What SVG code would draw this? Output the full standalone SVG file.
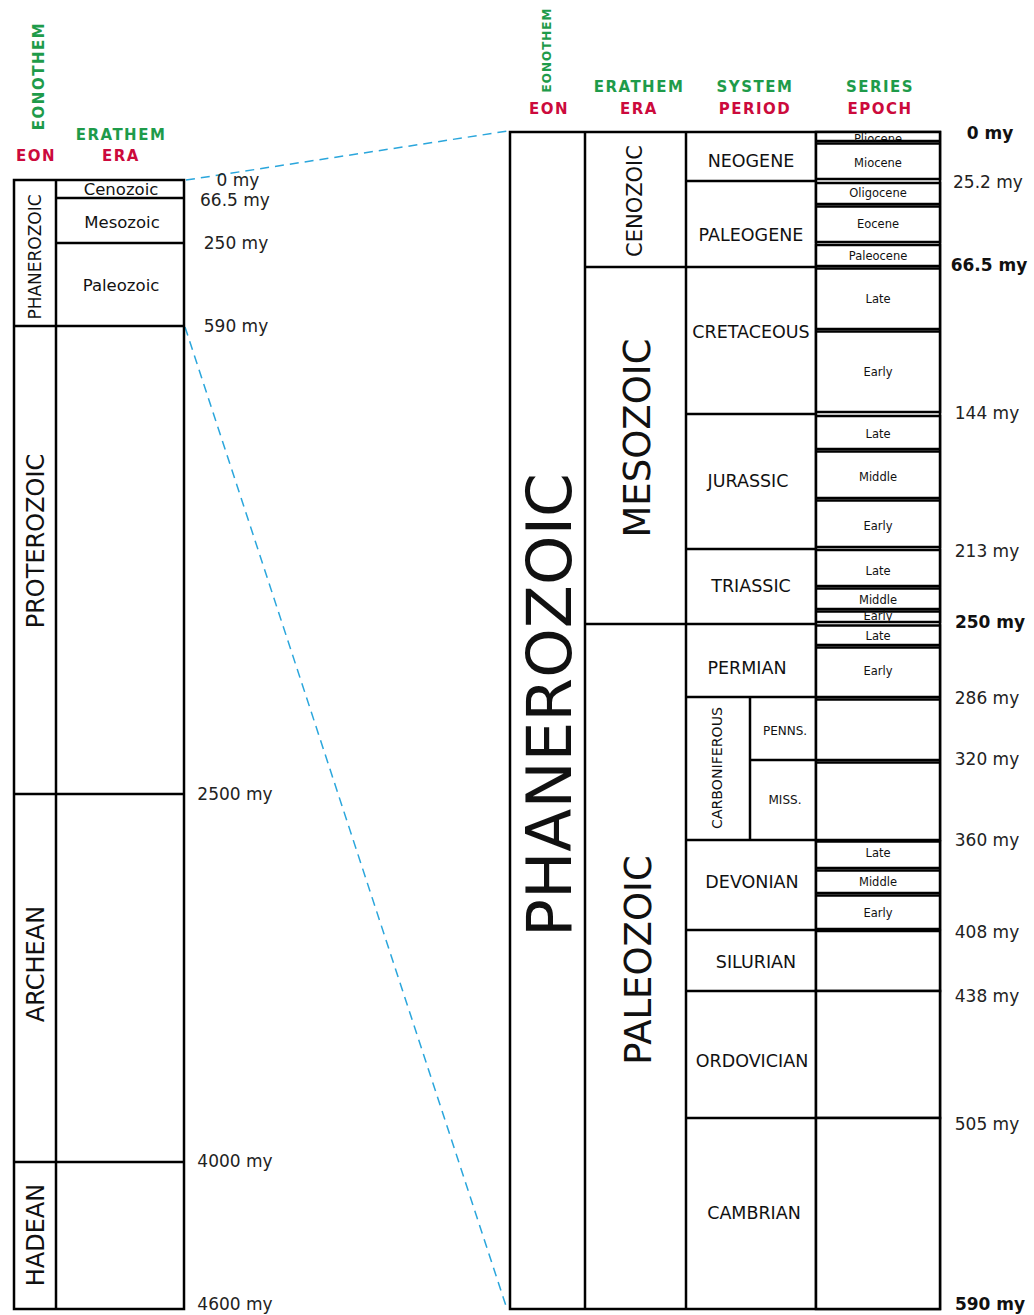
<svg xmlns="http://www.w3.org/2000/svg" width="1034" height="1315" viewBox="0 0 1034 1315">
<style>
.ln{stroke:#000;stroke-width:2.5;fill:none}
.bx{stroke:#000;stroke-width:2.5;fill:#fff}
.t{font-family:"DejaVu Sans",Verdana,sans-serif;fill:#111;text-anchor:middle}
.hg{font-family:"DejaVu Sans",Verdana,sans-serif;font-weight:bold;fill:#1e9b4a;text-anchor:middle;letter-spacing:1.5px}
.hr{font-family:"DejaVu Sans",Verdana,sans-serif;font-weight:bold;fill:#cc0a3c;text-anchor:middle;letter-spacing:1.5px}
.age{font-family:"DejaVu Sans",Verdana,sans-serif;fill:#222;text-anchor:middle;font-size:17px}
.ageb{font-family:"DejaVu Sans",Verdana,sans-serif;fill:#111;text-anchor:middle;font-size:17px;font-weight:bold}
.ep{font-family:"DejaVu Sans",Verdana,sans-serif;fill:#111;text-anchor:middle;font-size:11.5px}
.per{font-family:"DejaVu Sans",Verdana,sans-serif;fill:#111;text-anchor:middle;font-size:17.5px}
.dash{stroke:#2aa6dc;stroke-width:1.5;stroke-dasharray:9 6;fill:none}
</style>
<defs>
<clipPath id="clipPlio"><rect x="817" y="133" width="122" height="8"/></clipPath>
</defs>
<rect width="1034" height="1315" fill="#fff"/>

<g id="headers">
<text class="hg" font-size="15" transform="translate(38,76) rotate(-90)" y="5.5">EONOTHEM</text>
<text class="hr" font-size="15" x="36" y="160.5">EON</text>
<text class="hg" font-size="15" x="121" y="139.5">ERATHEM</text>
<text class="hr" font-size="15" x="121" y="160.5">ERA</text>
<text class="hg" font-size="12" transform="translate(547,50) rotate(-90)" y="4.4" style="letter-spacing:1px">EONOTHEM</text>
<text class="hr" font-size="15" x="549" y="113.5">EON</text>
<text class="hg" font-size="15" x="639" y="91.5">ERATHEM</text>
<text class="hr" font-size="15" x="639" y="113.5">ERA</text>
<text class="hg" font-size="15" x="755" y="91.5">SYSTEM</text>
<text class="hr" font-size="15" x="755" y="113.5">PERIOD</text>
<text class="hg" font-size="15" x="880" y="91.5">SERIES</text>
<text class="hr" font-size="15" x="880" y="113.5">EPOCH</text>
</g>

<g id="connectors">
<line class="dash" x1="186" y1="180" x2="508" y2="131"/>
<line class="dash" x1="185" y1="327" x2="507" y2="1309"/>
</g>

<g id="left-chart">
<rect class="ln" x="14" y="180" width="170" height="1129"/>
<line class="ln" x1="56" y1="180" x2="56" y2="1309"/>
<line class="ln" x1="56" y1="198" x2="184" y2="198"/>
<line class="ln" x1="56" y1="243" x2="184" y2="243"/>
<line class="ln" x1="14" y1="326" x2="184" y2="326"/>
<line class="ln" x1="14" y1="794" x2="184" y2="794"/>
<line class="ln" x1="14" y1="1162" x2="184" y2="1162"/>
</g>

<g id="left-eons">
<text class="t" font-size="17" transform="translate(35,257) rotate(-90)" y="6.2">PHANEROZOIC</text>
<text class="t" font-size="24" transform="translate(35,541) rotate(-90)" y="8.8">PROTEROZOIC</text>
<text class="t" font-size="24" transform="translate(35,964) rotate(-90)" y="8.8">ARCHEAN</text>
<text class="t" font-size="24" transform="translate(35,1235) rotate(-90)" y="8.8">HADEAN</text>
</g>

<g id="left-eras">
<text class="t" font-size="16.5" x="121" y="195">Cenozoic</text>
<text class="t" font-size="16.5" x="122" y="228">Mesozoic</text>
<text class="t" font-size="16.5" x="121" y="291">Paleozoic</text>
</g>

<g id="left-ages">
<text class="age" x="238" y="186">0 my</text>
<text class="age" x="235" y="206">66.5 my</text>
<text class="age" x="236" y="249">250 my</text>
<text class="age" x="236" y="332">590 my</text>
<text class="age" x="235" y="800">2500 my</text>
<text class="age" x="235" y="1167">4000 my</text>
<text class="age" x="235" y="1310">4600 my</text>
</g>

<g id="right-chart">
<rect class="ln" x="510" y="132" width="430" height="1177"/>
<line class="ln" x1="585" y1="132" x2="585" y2="1309"/>
<line class="ln" x1="686" y1="132" x2="686" y2="1309"/>
<line class="ln" x1="816" y1="132" x2="816" y2="1309"/>
<line class="ln" x1="686" y1="181" x2="816" y2="181"/>
<line class="ln" x1="585" y1="267" x2="816" y2="267"/>
<line class="ln" x1="686" y1="414" x2="816" y2="414"/>
<line class="ln" x1="686" y1="549" x2="816" y2="549"/>
<line class="ln" x1="585" y1="624" x2="816" y2="624"/>
<line class="ln" x1="686" y1="697" x2="816" y2="697"/>
<line class="ln" x1="750" y1="697" x2="750" y2="840"/>
<line class="ln" x1="750" y1="760" x2="816" y2="760"/>
<line class="ln" x1="686" y1="840" x2="816" y2="840"/>
<line class="ln" x1="686" y1="930" x2="816" y2="930"/>
<line class="ln" x1="686" y1="991" x2="816" y2="991"/>
<line class="ln" x1="686" y1="1118" x2="816" y2="1118"/>
</g>

<g id="epoch-boxes">
<rect class="bx" x="816" y="132" width="124" height="9"/>
<rect class="bx" x="816" y="143.5" width="124" height="35.5"/>
<rect class="bx" x="816" y="183" width="124" height="21"/>
<rect class="bx" x="816" y="206.5" width="124" height="35.5"/>
<rect class="bx" x="816" y="245" width="124" height="21"/>
<rect class="bx" x="816" y="268.5" width="124" height="60.5"/>
<rect class="bx" x="816" y="331.5" width="124" height="80.5"/>
<rect class="bx" x="816" y="416" width="124" height="33"/>
<rect class="bx" x="816" y="451.5" width="124" height="46.5"/>
<rect class="bx" x="816" y="500.5" width="124" height="46.5"/>
<rect class="bx" x="816" y="550" width="124" height="36"/>
<rect class="bx" x="816" y="588.5" width="124" height="20.5"/>
<rect class="bx" x="816" y="611.5" width="124" height="10.5"/>
<rect class="bx" x="816" y="625.5" width="124" height="19.5"/>
<rect class="bx" x="816" y="647.5" width="124" height="49.5"/>
<rect class="bx" x="816" y="699.5" width="124" height="60.5"/>
<rect class="bx" x="816" y="762.5" width="124" height="77.5"/>
<rect class="bx" x="816" y="841.5" width="124" height="26.5"/>
<rect class="bx" x="816" y="870.5" width="124" height="22.5"/>
<rect class="bx" x="816" y="895.5" width="124" height="33.5"/>
<rect class="bx" x="816" y="931" width="124" height="60"/>
<rect class="bx" x="816" y="991" width="124" height="127"/>
<rect class="bx" x="816" y="1118" width="124" height="191"/>
</g>

<g id="eon-phanerozoic">
<text class="t" font-size="63" transform="translate(548,705) rotate(-90)" y="23">PHANEROZOIC</text>
</g>

<g id="eras">
<text class="t" font-size="21" transform="translate(634,201) rotate(-90)" y="7.7">CENOZOIC</text>
<text class="t" font-size="37" transform="translate(636,438) rotate(-90)" y="13.5">MESOZOIC</text>
<text class="t" font-size="37" transform="translate(637,960) rotate(-90)" y="13.5">PALEOZOIC</text>
</g>

<g id="periods">
<text class="per" x="751" y="166.5">NEOGENE</text>
<text class="per" x="751" y="240.5">PALEOGENE</text>
<text class="per" x="751" y="337.5">CRETACEOUS</text>
<text class="per" x="748" y="486.5">JURASSIC</text>
<text class="per" x="751" y="591.5">TRIASSIC</text>
<text class="per" x="747" y="673.5">PERMIAN</text>
<text class="t" font-size="14" transform="translate(717,768) rotate(-90)" y="5.1" textLength="122" lengthAdjust="spacingAndGlyphs">CARBONIFEROUS</text>
<text class="t" font-size="12" x="785" y="735.4">PENNS.</text>
<text class="t" font-size="12" x="785" y="804.4">MISS.</text>
<text class="per" x="752" y="887.5">DEVONIAN</text>
<text class="per" x="756" y="967.5">SILURIAN</text>
<text class="per" x="752" y="1066.5">ORDOVICIAN</text>
<text class="per" x="754" y="1218.5">CAMBRIAN</text>
</g>

<g id="epochs">
<text class="ep" x="878" y="142.5" clip-path="url(#clipPlio)">Pliocene</text>
<text class="ep" x="878" y="167.2">Miocene</text>
<text class="ep" x="878" y="197.2">Oligocene</text>
<text class="ep" x="878" y="228.2">Eocene</text>
<text class="ep" x="878" y="260.2">Paleocene</text>
<text class="ep" x="878" y="303.2">Late</text>
<text class="ep" x="878" y="376.2">Early</text>
<text class="ep" x="878" y="438.2">Late</text>
<text class="ep" x="878" y="481.2">Middle</text>
<text class="ep" x="878" y="530.2">Early</text>
<text class="ep" x="878" y="575.2">Late</text>
<text class="ep" x="878" y="604.2">Middle</text>
<text class="ep" x="878" y="620.2">Early</text>
<text class="ep" x="878" y="640.2">Late</text>
<text class="ep" x="878" y="675.2">Early</text>
<text class="ep" x="878" y="857.2">Late</text>
<text class="ep" x="878" y="886.2">Middle</text>
<text class="ep" x="878" y="917.2">Early</text>
</g>

<g id="right-ages">
<text class="ageb" x="990" y="139">0 my</text>
<text class="age" x="988" y="188">25.2 my</text>
<text class="ageb" x="989" y="271">66.5 my</text>
<text class="age" x="987" y="419">144 my</text>
<text class="age" x="987" y="557">213 my</text>
<text class="ageb" x="990" y="628">250 my</text>
<text class="age" x="987" y="704">286 my</text>
<text class="age" x="987" y="765">320 my</text>
<text class="age" x="987" y="846">360 my</text>
<text class="age" x="987" y="938">408 my</text>
<text class="age" x="987" y="1002">438 my</text>
<text class="age" x="987" y="1130">505 my</text>
<text class="ageb" x="990" y="1310">590 my</text>
</g>
</svg>
